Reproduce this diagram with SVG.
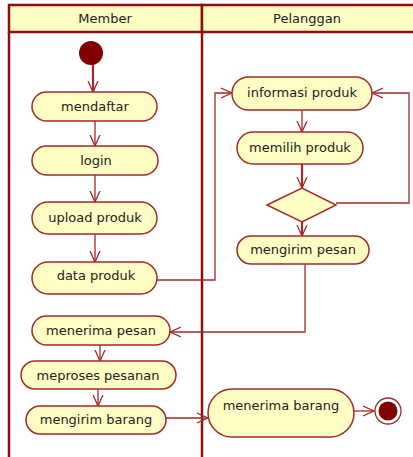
<svg xmlns="http://www.w3.org/2000/svg" width="413" height="457" viewBox="0 0 413 457">
<style>
.lane{fill:none;stroke:#8b0f0f;stroke-width:2.5}
.hdr{fill:#fefec4;stroke:#8b0f0f;stroke-width:2.5}
.act{fill:#fefec4;stroke:#a32a2a;stroke-width:1.5}
.txt{font-family:"DejaVu Sans",Verdana,sans-serif;font-size:13px;fill:#222;text-anchor:middle}
.ln{fill:none;stroke:#a32a2a;stroke-width:1.3}
.thick{stroke-width:2.2}
</style>
<defs>
<marker id="arr" viewBox="0 0 12 12" refX="11" refY="6" markerWidth="12" markerHeight="12" markerUnits="userSpaceOnUse" orient="auto">
<polyline points="0,1 11,6 0,11" fill="none" stroke="#a32a2a" stroke-width="1.3"/>
</marker>
</defs>
<rect x="0" y="0" width="413" height="457" fill="#ffffff"/>
<g id="lanes">
<rect class="hdr" x="9" y="5" width="193" height="27"/>
<rect class="hdr" x="202" y="5" width="215" height="27"/>
<line class="lane" x1="9" y1="32" x2="9" y2="460"/>
<line class="lane" x1="202" y1="32" x2="202" y2="460"/>
<text class="txt" x="105" y="23">Member</text>
<text class="txt" x="307" y="23">Pelanggan</text>
</g>
<g id="connectors">
<line class="ln thick" x1="93" y1="64" x2="93" y2="92" marker-end="url(#arr)"/>
<line class="ln" x1="95" y1="121" x2="95" y2="146" marker-end="url(#arr)"/>
<line class="ln" x1="95" y1="175" x2="95" y2="202" marker-end="url(#arr)"/>
<line class="ln" x1="95" y1="234" x2="95" y2="262" marker-end="url(#arr)"/>
<polyline class="ln" points="157,280 215,280 215,93 232,93" marker-end="url(#arr)"/>
<line class="ln" x1="302" y1="110" x2="302" y2="132" marker-end="url(#arr)"/>
<line class="ln thick" x1="302" y1="164" x2="302" y2="188" marker-end="url(#arr)"/>
<line class="ln thick" x1="302" y1="222" x2="302" y2="236" marker-end="url(#arr)"/>
<polyline class="ln" points="336,203 409,203 409,93 372,93" marker-end="url(#arr)"/>
<polyline class="ln" points="305,264 305,332 170,332" marker-end="url(#arr)"/>
<line class="ln" x1="100" y1="345" x2="100" y2="361" marker-end="url(#arr)"/>
<line class="ln" x1="98" y1="389" x2="98" y2="406" marker-end="url(#arr)"/>
<line class="ln" x1="166" y1="418" x2="208" y2="418" marker-end="url(#arr)"/>
<line class="ln" x1="354" y1="411" x2="374" y2="411" marker-end="url(#arr)"/>
</g>
<g id="start"><circle cx="91" cy="53" r="12" fill="#800000"/></g>
<g id="mendaftar"><rect class="act" x="32" y="92" width="125" height="29" rx="14.5"/><text class="txt" x="95" y="111">mendaftar</text></g>
<g id="login"><rect class="act" x="32" y="146" width="126" height="29" rx="14.5"/><text class="txt" x="96" y="165">login</text></g>
<g id="upload"><rect class="act" x="32" y="202" width="125" height="32" rx="16"/><text class="txt" x="95" y="222">upload produk</text></g>
<g id="data"><rect class="act" x="32" y="262" width="125" height="32" rx="16"/><text class="txt" x="96" y="280">data produk</text></g>
<g id="informasi"><rect class="act" x="232" y="77" width="140" height="33" rx="16.5"/><text class="txt" x="302" y="97">informasi produk</text></g>
<g id="memilih"><rect class="act" x="237" y="132" width="126" height="32" rx="16"/><text class="txt" x="300" y="152">memilih produk</text></g>
<g id="decision"><polygon class="act" points="267,205 302,188 336,205 302,222"/></g>
<g id="mengirimpesan"><rect class="act" x="237" y="236" width="132" height="28" rx="14"/><text class="txt" x="303" y="254">mengirim pesan</text></g>
<g id="menerimapesan"><rect class="act" x="32" y="316" width="138" height="29" rx="14.5"/><text class="txt" x="101" y="335">menerima pesan</text></g>
<g id="meproses"><rect class="act" x="21" y="361" width="155" height="28" rx="14"/><text class="txt" x="98" y="380">meproses pesanan</text></g>
<g id="mengirimbarang"><rect class="act" x="26" y="406" width="140" height="28" rx="14"/><text class="txt" x="96" y="424">mengirim barang</text></g>
<g id="menerimabarang"><rect class="act" x="208" y="389" width="146" height="48" rx="24"/><text class="txt" x="281" y="410">menerima barang</text></g>
<g id="end"><circle cx="388" cy="411" r="13" fill="#ffffff" stroke="#a32a2a" stroke-width="1.3"/><circle cx="388" cy="411" r="9.5" fill="#800000"/></g>
</svg>
